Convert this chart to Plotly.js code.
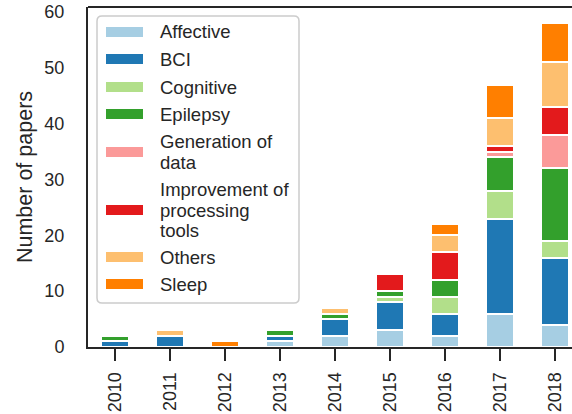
<!DOCTYPE html>
<html>
<head>
<meta charset="utf-8">
<script src="https://cdn.plot.ly/plotly-3.0.1.min.js"></script>
<style>html,body{margin:0;padding:0;overflow:hidden;background:#fff}</style>
</head>
<body>
<div id="chart" style="width:572px;height:414px"></div>
<script>
const years = ['2010','2011','2012','2013','2014','2015','2016','2017','2018'];
const categories = ['Affective','BCI','Cognitive','Epilepsy','Generation of data','Improvement of processing tools','Others','Sleep'];
const legendLabels = ['Affective','BCI','Cognitive','Epilepsy','Generation of<br>data','Improvement of<br>processing<br>tools','Others','Sleep'];
const affective   = [0,0,0,1,2,3,2,6,4];
const bci         = [1,2,0,1,3,5,4,17,12];
const cognitive   = [0,0,0,0,0,1,3,5,3];
const epilepsy    = [1,0,0,1,1,1,3,6,13];
const generation  = [0,0,0,0,0,0,0,1,6];
const improvement = [0,0,0,0,0,3,5,1,5];
const others      = [0,1,0,0,1,0,3,5,8];
const sleep       = [0,0,1,0,0,0,2,6,7];
const seriesList = [affective,bci,cognitive,epilepsy,generation,improvement,others,sleep];
const colors = ['#a6cee3','#1f78b4','#b2df8a','#33a02c','#fb9a99','#e31a1c','#fdbf6f','#ff7f00'];

const FONT = '"Liberation Sans", Arial, sans-serif';
const TXT = '#262626';

const traces = categories.map((c,i)=>({
  type:'bar', x:years, y:seriesList[i], name:c, width:0.5,
  marker:{color:colors[i], line:{color:'#ffffff', width:2}},
  showlegend:false, hoverinfo:'skip'
}));

// plot area geometry in pixels
const L=88, R=572, T=7, B=347;
const px=v=>(v-L)/(R-L);
const py=v=>(B-v)/(B-T);

const shapes=[{type:'line',xref:'paper',yref:'paper',x0:0,x1:1,y0:1,y1:1,line:{color:TXT,width:2}}];
// legend frame (rounded)
const bx0=97,bx1=299,by0=16,by1=303,r=5;
const rx=r/(R-L), ry=r/(B-T);
const X0=px(bx0),X1=px(bx1),Y0=py(by1),Y1=py(by0);
shapes.push({type:'path',xref:'paper',yref:'paper',layer:'above',
  path:`M${X0+rx},${Y0} L${X1-rx},${Y0} Q${X1},${Y0} ${X1},${Y0+ry} L${X1},${Y1-ry} Q${X1},${Y1} ${X1-rx},${Y1} L${X0+rx},${Y1} Q${X0},${Y1} ${X0},${Y1-ry} L${X0},${Y0+ry} Q${X0},${Y0} ${X0+rx},${Y0} Z`,
  fillcolor:'rgba(255,255,255,0.9)',line:{color:'#cccccc',width:1.5}});
const itemY=[32,59,87,114,152,210,257,284];
const LINE_H=20.5;
const annotations=[];
categories.forEach((c,i)=>{
  shapes.push({type:'rect',xref:'paper',yref:'paper',layer:'above',
    x0:px(106),x1:px(143),y0:py(itemY[i]+5),y1:py(itemY[i]-5),
    fillcolor:colors[i],line:{width:0}});
  const lines=legendLabels[i].split('<br>');
  lines.forEach((ln,k)=>{
    const yc=itemY[i]+(k-(lines.length-1)/2)*LINE_H;
    annotations.push({xref:'paper',yref:'paper',x:px(158),y:py(yc),
      xanchor:'left',yanchor:'middle',align:'left',showarrow:false,
      text:ln,font:{family:FONT,size:18.5,color:TXT}});
  });
});

const layout={
  width:572,height:414,
  margin:{l:L,r:572-R,t:T,b:414-B,pad:0},
  paper_bgcolor:'#fff',plot_bgcolor:'#fff',
  barmode:'stack',bargap:0.5,
  font:{family:FONT,size:18,color:TXT},
  xaxis:{type:'category',range:[-0.49,8.31],showline:true,linecolor:TXT,linewidth:2,
    ticks:'outside',ticklen:12,tickwidth:2.5,tickcolor:TXT,tickangle:-90,
    showgrid:false,zeroline:false,tickfont:{family:FONT,size:18,color:TXT},ticklabelstandoff:4},
  yaxis:{range:[0,60.9],tickvals:[0,10,20,30,40,50,60],showline:true,linecolor:TXT,linewidth:2,
    ticks:'',showgrid:false,zeroline:false,tickfont:{family:FONT,size:18,color:TXT},
    ticklabelstandoff:18,
    title:{text:'Number of papers',font:{family:FONT,size:21.5,color:TXT},standoff:6}},
  shapes:shapes,annotations:annotations
};
Plotly.newPlot('chart',traces,layout,{staticPlot:true,displayModeBar:false});
</script>
</body>
</html>
